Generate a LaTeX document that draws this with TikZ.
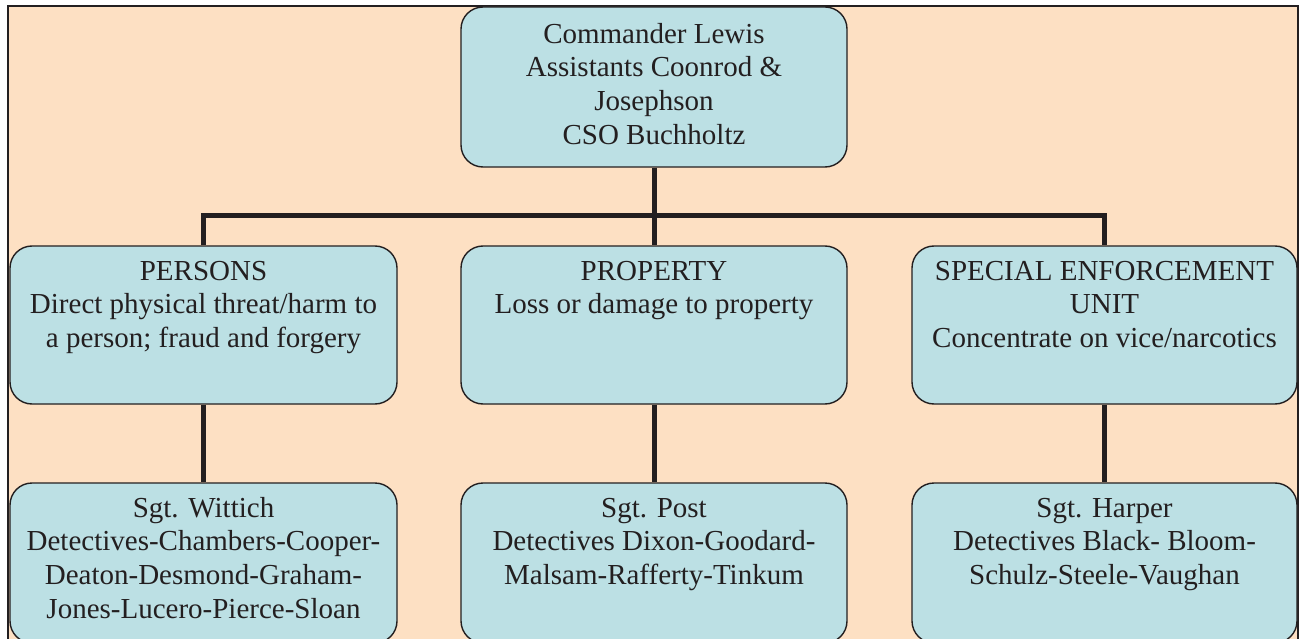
\documentclass[tikz,border=0pt]{standalone}
\usepackage{fontspec}
\setmainfont{Liberation Serif}
\definecolor{peach}{RGB}{253,224,195}
\definecolor{boxblue}{RGB}{188,224,228}
\definecolor{ink}{RGB}{35,31,32}
\newcommand\boxtext[4][t]{\parbox[c][#2][#1]{#3}{\centering\fontsize{29}{33.7}\selectfont\strut #4}}
\begin{document}
\begin{tikzpicture}[x=1pt,y=-1pt,
  orgbox/.style={draw=ink, line width=1.4pt, fill=boxblue, rounded corners=22pt, inner sep=0pt, text=ink, minimum width=386pt},
  conn/.style={draw=ink, line width=5pt, line join=miter},
]
\useasboundingbox (0,0) rectangle (1301,639);
\draw[fill=peach, draw=ink, line width=2pt] (8,6) rectangle (1298,680);

\node[orgbox, minimum height=160pt] (top) at (654,87)
  {\boxtext{135pt}{376pt}{Commander Lewis\\Assistants Coonrod \&\\Josephson\\CSO Buchholtz}};

\node[orgbox, minimum height=158pt, minimum width=387pt] (pers) at (203.5,325)
  {\boxtext{137pt}{376pt}{PERSONS\\Direct physical threat/harm to\\a person; fraud and forgery}};
\node[orgbox, minimum height=158pt] (prop) at (654,325)
  {\boxtext{137pt}{376pt}{PROPERTY\\Loss or damage to property}};
\node[orgbox, minimum height=158pt, minimum width=385pt] (seu) at (1104.5,325)
  {\boxtext{137pt}{376pt}{SPECIAL ENFORCEMENT\\UNIT\\Concentrate on vice/narcotics}};

\node[orgbox, minimum height=160pt, minimum width=387pt] (perst) at (203.5,563)
  {\boxtext{139pt}{376pt}{Sgt. Wittich\\Detectives-Chambers-Cooper-\\Deaton-Desmond-Graham-\\Jones-Lucero-Pierce-Sloan}};
\node[orgbox, minimum height=160pt] (propt) at (654,563)
  {\boxtext{139pt}{376pt}{Sgt. Post\\Detectives Dixon-Goodard-\\Malsam-Rafferty-Tinkum}};
\node[orgbox, minimum height=160pt, minimum width=385pt] (seut) at (1104.5,563)
  {\boxtext{139pt}{376pt}{Sgt. Harper\\Detectives Black- Bloom-\\Schulz-Steele-Vaughan}};

\coordinate (hub) at (654,215.5);
\draw[conn] (top.south) -- (prop.north);
\draw[conn] (pers.north) |- (hub) -| (seu.north);
\draw[conn] (pers.south) -- (perst.north);
\draw[conn] (prop.south) -- (propt.north);
\draw[conn] (seu.south) -- (seut.north);
\end{tikzpicture}
\end{document}
